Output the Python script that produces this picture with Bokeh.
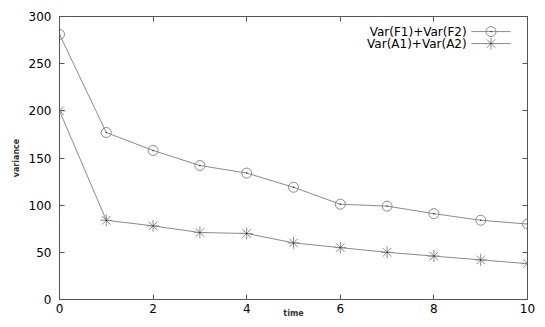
from bokeh.plotting import figure
from bokeh.models import Range1d, LinearAxis, FixedTicker, Label
from bokeh.embed import file_html
from bokeh.resources import INLINE

time = [0, 1, 2, 3, 4, 5, 6, 7, 8, 9, 10]
var_f = [281, 177, 158, 142, 134, 119, 101, 99, 91, 84, 80]
var_a = [200, 84, 78, 71, 70, 60, 55, 50, 46, 42, 38]
x_ticks = [0, 2, 4, 6, 8, 10]
y_ticks = [0, 50, 100, 150, 200, 250, 300]
legend_f = "Var(F1)+Var(F2)"
legend_a = "Var(A1)+Var(A2)"

FONT = "DejaVu Sans"
LINE = "#8a8a8a"
AX = "#555555"

p = figure(width=537, height=321, output_backend="svg", toolbar_location=None,
           x_range=Range1d(0, 10), y_range=Range1d(0, 300),
           min_border_left=59, min_border_right=10, min_border_top=16, min_border_bottom=22)
p.grid.visible = False
p.outline_line_color = AX
p.outline_line_width = 1
p.background_fill_color = "white"

def style_axis(ax, ticks, show_labels):
    ax.ticker = FixedTicker(ticks=ticks)
    ax.major_tick_in = 5
    ax.major_tick_out = 0
    ax.minor_tick_line_color = None
    ax.major_tick_line_color = AX
    ax.axis_line_color = AX
    ax.major_label_text_font = FONT
    ax.major_label_text_color = "black"
    ax.major_label_text_font_size = "12px"
    if not show_labels:
        ax.major_label_overrides = {t: "" for t in ticks}
        ax.major_label_standoff = 0

style_axis(p.xaxis[0], x_ticks, True)
style_axis(p.yaxis[0], y_ticks, True)
p.xaxis[0].major_label_standoff = 4
p.xaxis[0].axis_label = "time"
p.xaxis[0].axis_label_text_font = FONT
p.xaxis[0].axis_label_text_font_size = "8px"
p.xaxis[0].axis_label_text_font_style = "bold"
p.xaxis[0].axis_label_text_color = "#333333"
p.xaxis[0].axis_label_standoff = -7
p.yaxis[0].major_label_standoff = 8
p.yaxis[0].axis_label = "variance"
p.yaxis[0].axis_label_text_font = FONT
p.yaxis[0].axis_label_text_font_size = "8px"
p.yaxis[0].axis_label_text_font_style = "bold"
p.yaxis[0].axis_label_text_color = "#333333"
p.yaxis[0].axis_label_standoff = 5

top = LinearAxis()
style_axis(top, x_ticks, False)
p.add_layout(top, "above")
right = LinearAxis()
style_axis(right, y_ticks, False)
p.add_layout(right, "right")

# series
p.line(time, var_f, line_color=LINE, line_width=1)
p.scatter(time, var_f, marker="circle", size=10, fill_color=None, line_color=LINE, line_width=1)
p.scatter(time, var_f, marker="dot", size=6, line_color="#222222")
p.line(time, var_a, line_color=LINE, line_width=1)
p.scatter(time, var_a, marker="asterisk", size=12, line_color=LINE, line_width=1)
p.scatter(time, var_a, marker="dot", size=6, line_color="#222222")

# legend drawn gnuplot-style (text, then sample)
for i, (lab, mk) in enumerate([(legend_f, "circle"), (legend_a, "asterisk")]):
    yy = 284 - i * 12.7
    p.add_layout(Label(x=8.70, y=yy, text=lab, text_font=FONT, text_font_size="12px",
                       text_color="black", text_align="right", text_baseline="middle"))
    p.line([8.80, 9.64], [yy, yy], line_color=LINE, line_width=1)
    if mk == "circle":
        p.scatter([9.22], [yy], marker="circle", size=10, fill_color=None, line_color=LINE)
    else:
        p.scatter([9.22], [yy], marker="asterisk", size=12, line_color=LINE)
    p.scatter([9.22], [yy], marker="dot", size=6, line_color="#222222")

open("out.html", "w").write(file_html(p, INLINE))
